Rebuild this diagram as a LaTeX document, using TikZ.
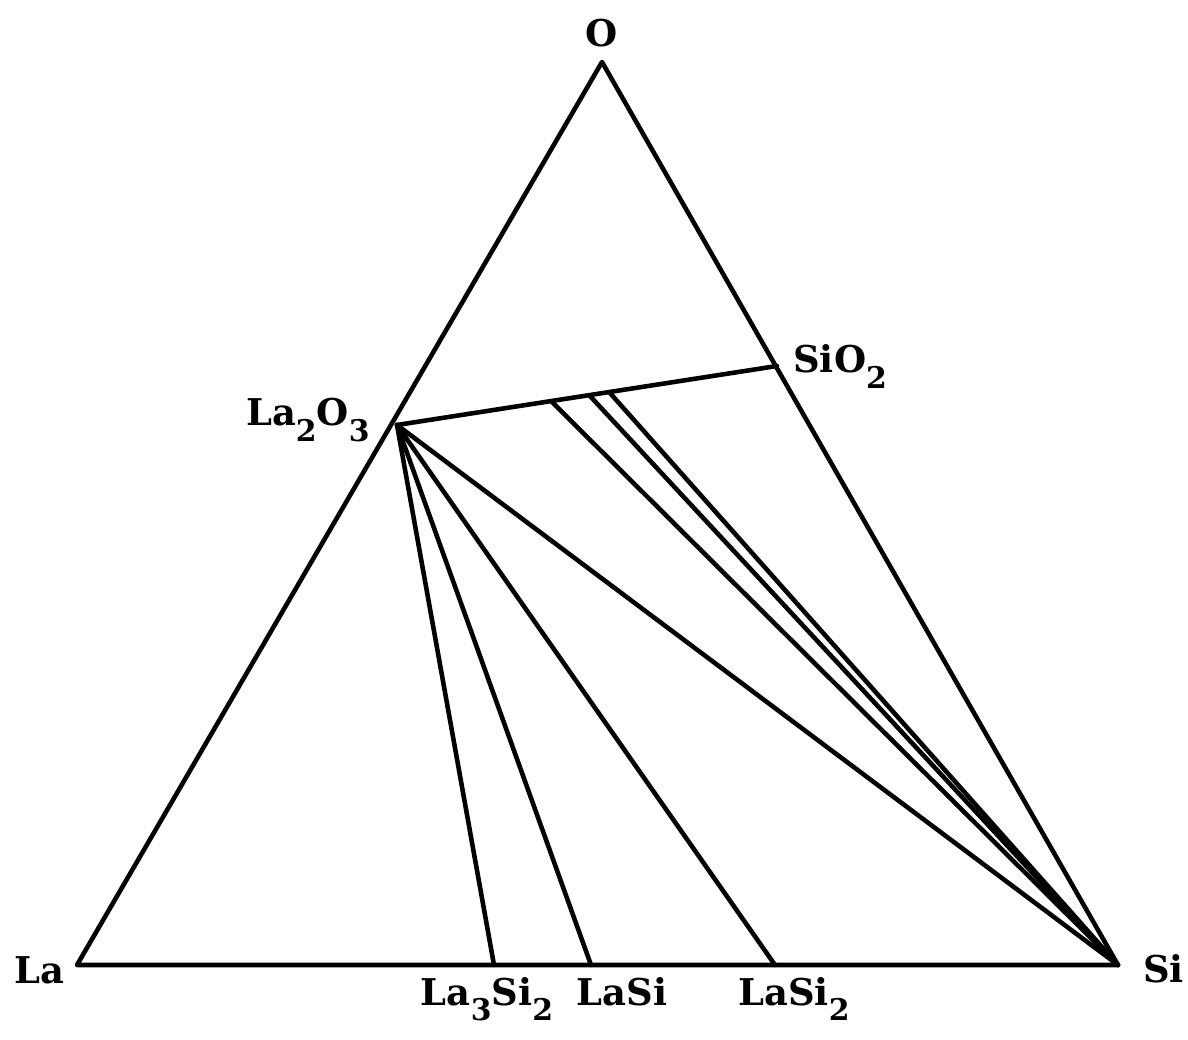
\documentclass[tikz,border=0pt]{standalone}
\usepackage{fontspec}
\setmainfont{DejaVu Serif}
\usepackage{tikz}

% lowered, nearly full-size subscript digits
\newcommand{\sbs}[1]{\raisebox{-0.42em}{\fontsize{17}{20}\selectfont #1}}

\tikzset{
	tie/.style={line width=2.6pt, line join=round, line cap=round},
	lab/.style={font=\fontsize{21}{25}\selectfont\bfseries, inner sep=0pt}
}

\begin{document}
\begin{tikzpicture}[x=0.02cm, y=-0.02cm]
\useasboundingbox (0,0) rectangle (1188,1040);
\coordinate (La) at (77, 965);
\coordinate (Si) at (1118, 965);
\coordinate (O) at (602, 62);
\coordinate (La2O3) at (397, 425);
\coordinate (SiO2) at (777, 366);
\coordinate (La3Si2) at (494, 965);
\coordinate (LaSi) at (591, 965);
\coordinate (LaSi2) at (775, 965);
\coordinate (t1) at (552, 402);
\coordinate (t2) at (590, 396);
\coordinate (t3) at (610, 393);
\node[lab, anchor=base] (lO) at (602, 47) {O};
\node[lab, anchor=base west] (lSiO2) at (793, 373) {SiO\sbs{2}};
\node[lab, anchor=base east] (lLa2O3) at (370, 426) {La\sbs{2}O\sbs{3}};
\node[lab, anchor=base east] (lLa) at (65, 983) {La};
\node[lab, anchor=base west] (lSi) at (1143, 982) {Si};
\node[lab, anchor=base] (lLa3Si2) at (487, 1005) {La\sbs{3}Si\sbs{2}};
\node[lab, anchor=base] (lLaSi) at (622, 1005) {LaSi};
\node[lab, anchor=base] (lLaSi2) at (794, 1005) {LaSi\sbs{2}};
% triangle
\draw[tie] (La) -- (Si) -- (O) -- cycle;
% tie lines
\draw[tie] (La2O3) -- (SiO2);
\draw[tie] (La2O3) -- (La3Si2);
\draw[tie] (La2O3) -- (LaSi);
\draw[tie] (La2O3) -- (LaSi2);
\draw[tie] (La2O3) -- (Si);
\draw[tie] (t1) -- (Si);
\draw[tie] (t2) -- (Si);
\draw[tie] (t3) -- (Si);
\end{tikzpicture}
\end{document}
